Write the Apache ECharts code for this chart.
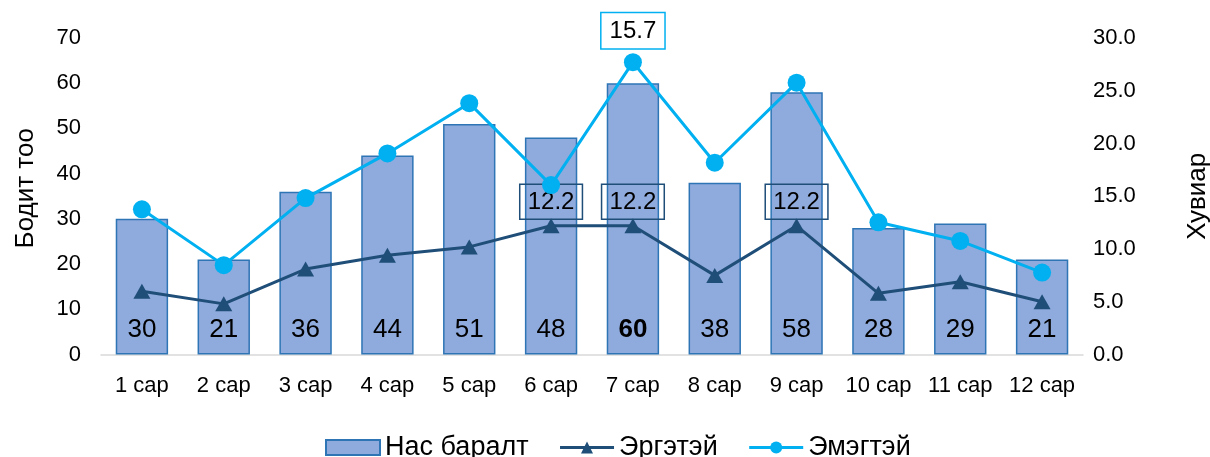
<!DOCTYPE html>
<html>
<head>
<meta charset="utf-8">
<script src="https://cdn.jsdelivr.net/npm/echarts@6/dist/echarts.min.js"></script>
<style>
  html, body { margin: 0; padding: 0; background: #fff; }
  #chart { width: 1210px; height: 457px; }
</style>
</head>
<body>
<div id="chart"></div>
<script>
// Months
const months = ['1 сар', '2 сар', '3 сар', '4 сар', '5 сар', '6 сар', '7 сар', '8 сар', '9 сар', '10 сар', '11 сар', '12 сар'];
// Deaths per month (left axis)
const deaths = [30, 21, 36, 44, 51, 48, 60, 38, 58, 28, 29, 21];
// Male share by month, % (right axis)
const male = [6.0, 4.8, 8.1, 9.4, 10.2, 12.2, 12.2, 7.5, 12.2, 5.8, 6.9, 5.0];
// Female share by month, % (own scale)
const female = [7.8, 4.8, 8.4, 10.8, 13.5, 9.1, 15.7, 10.3, 14.6, 7.1, 6.1, 4.4];
// Tick labels
const leftTicks = [0, 10, 20, 30, 40, 50, 60, 70];
const rightTicks = [0, 5, 10, 15, 20, 25, 30];
// Points whose values are written next to them
const maleLabelled = [5, 6, 8];
const femaleLabelled = [6];
const boldBar = 6;

const FONT = '"Liberation Sans", Arial, sans-serif';
const BAR_FILL = '#8FAADC', BAR_EDGE = '#2E75B6';
const MALE_C = '#1F4E79', FEMALE_C = '#00B0F0';

const chart = echarts.init(document.getElementById('chart'), null, { renderer: 'canvas' });

chart.setOption({
  animation: false,
  textStyle: { fontFamily: FONT },
  grid: { left: 101, right: 127, top: 38, bottom: 102.5, outerBoundsMode: 'none', containLabel: false },
  legend: {
    top: 429,
    left: 320,
    itemWidth: 54,
    itemHeight: 15,
    itemGap: 30,
    textStyle: { fontSize: 27, color: '#000', fontFamily: FONT },
    data: [
      { name: 'Нас баралт', icon: 'rect' },
      { name: 'Эргэтэй', lineStyle: { width: 3 } },
      { name: 'Эмэгтэй', lineStyle: { width: 3 } }
    ]
  },
  xAxis: {
    type: 'category',
    data: months,
    axisLine: { lineStyle: { color: '#D9D9D9', width: 1.5 } },
    axisTick: { show: false },
    axisLabel: { color: '#000', fontSize: 22, margin: 20, interval: 0, fontFamily: FONT }
  },
  yAxis: [
    {
      type: 'value',
      min: leftTicks[0],
      max: leftTicks[leftTicks.length - 1],
      interval: leftTicks[1] - leftTicks[0],
      name: 'Бодит тоо',
      nameLocation: 'middle',
      nameRotate: 90,
      nameGap: 62,
      nameTextStyle: { fontSize: 26, color: '#000', fontFamily: FONT, padding: [0, 0, 0, 16] },
      splitLine: { show: false },
      axisLine: { show: false },
      axisTick: { show: false },
      axisLabel: { color: '#000', fontSize: 22, margin: 20, fontFamily: FONT }
    },
    {
      type: 'value',
      position: 'right',
      min: rightTicks[0],
      max: rightTicks[rightTicks.length - 1],
      interval: rightTicks[1] - rightTicks[0],
      name: 'Хувиар',
      nameLocation: 'middle',
      nameRotate: 90,
      nameGap: 102,
      nameTextStyle: { fontSize: 26, color: '#000', fontFamily: FONT },
      splitLine: { show: false },
      axisLine: { show: false },
      axisTick: { show: false },
      axisLabel: {
        color: '#000', fontSize: 22, margin: 10, fontFamily: FONT,
        formatter: v => v.toFixed(1)
      }
    },
    {
      // female share is plotted on its own, unlabelled scale
      type: 'value',
      show: false,
      min: 0,
      max: 17
    }
  ],
  series: [
    {
      name: 'Нас баралт',
      type: 'bar',
      yAxisIndex: 0,
      barCategoryGap: '36%',
      data: deaths.map((v, i) => ({
        value: v,
        label: i === boldBar ? { fontWeight: 'bold' } : undefined
      })),
      itemStyle: { color: BAR_FILL, borderColor: BAR_EDGE, borderWidth: 1.5 },
      label: {
        show: true,
        position: 'insideBottom',
        distance: 12,
        color: '#000',
        fontSize: 26,
        fontFamily: FONT
      },
      z: 1
    },
    {
      name: 'Эргэтэй',
      type: 'line',
      yAxisIndex: 1,
      data: male.map((v, i) => ({
        value: v,
        label: maleLabelled.includes(i) ? { show: true } : { show: false }
      })),
      symbol: 'triangle',
      symbolSize: [17, 15],
      color: MALE_C,
      lineStyle: { color: MALE_C, width: 3 },
      itemStyle: { color: MALE_C },
      label: {
        position: 'top',
        distance: -1,
        color: '#000',
        fontSize: 24,
        fontFamily: FONT,
        borderColor: MALE_C,
        borderWidth: 1.5,
        padding: [6, 8, 5, 8],
        formatter: p => p.value.toFixed(1)
      },
      z: 3
    },
    {
      name: 'Эмэгтэй',
      type: 'line',
      yAxisIndex: 2,
      data: female.map((v, i) => ({
        value: v,
        label: femaleLabelled.includes(i) ? { show: true } : { show: false }
      })),
      symbol: 'circle',
      symbolSize: 18,
      color: FEMALE_C,
      lineStyle: { color: FEMALE_C, width: 3 },
      itemStyle: { color: FEMALE_C },
      label: {
        position: 'top',
        distance: 5,
        color: '#000',
        fontSize: 24,
        fontFamily: FONT,
        backgroundColor: '#fff',
        borderColor: FEMALE_C,
        borderWidth: 1.5,
        padding: [6, 8, 5, 8],
        formatter: p => p.value.toFixed(1)
      },
      z: 4
    }
  ]
});
</script>
</body>
</html>
